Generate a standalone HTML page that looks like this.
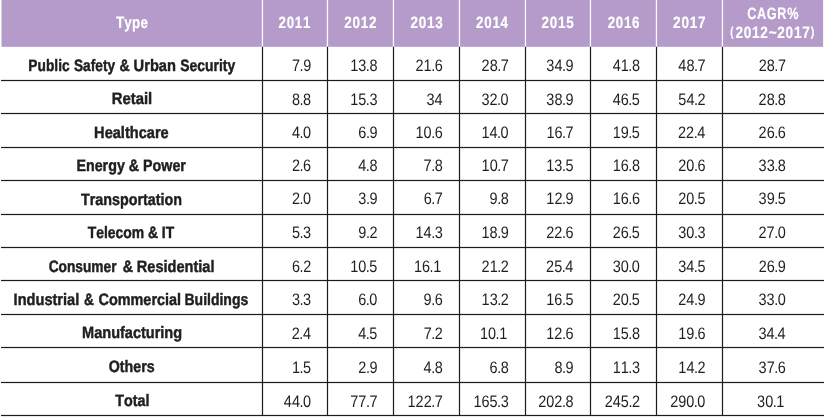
<!DOCTYPE html>
<html lang="en"><head><meta charset="utf-8"><title>Market size by type</title>
<style>
html,body{margin:0;padding:0;background:#fff;}
body{width:825px;height:417px;overflow:hidden;font-family:"Liberation Sans",sans-serif;}
svg{display:block;font-family:"Liberation Sans",sans-serif;font-kerning:none;will-change:transform;transform:translateZ(0);text-rendering:geometricPrecision;}
text{white-space:pre;}
</style></head><body>
<svg width="825" height="417" viewBox="0 0 825 417">
<rect x="0" y="0" width="825" height="417" fill="#ffffff"/>
<rect x="1.5" y="0" width="821.6" height="46.8" fill="#b49bca"/>
<rect x="261.8" y="0" width="1.3" height="46.8" fill="#fdf8ff"/>
<rect x="326.8" y="0" width="1.3" height="46.8" fill="#fdf8ff"/>
<rect x="392.8" y="0" width="1.3" height="46.8" fill="#fdf8ff"/>
<rect x="458.8" y="0" width="1.3" height="46.8" fill="#fdf8ff"/>
<rect x="524.8" y="0" width="1.3" height="46.8" fill="#fdf8ff"/>
<rect x="589.8" y="0" width="1.3" height="46.8" fill="#fdf8ff"/>
<rect x="655.8" y="0" width="1.3" height="46.8" fill="#fdf8ff"/>
<rect x="721.8" y="0" width="1.3" height="46.8" fill="#fdf8ff"/>
<rect x="261.9" y="46.8" width="1.2" height="369.2" fill="#1c1c1c"/>
<rect x="326.9" y="46.8" width="1.2" height="369.2" fill="#1c1c1c"/>
<rect x="392.9" y="46.8" width="1.2" height="369.2" fill="#1c1c1c"/>
<rect x="458.9" y="46.8" width="1.2" height="369.2" fill="#1c1c1c"/>
<rect x="524.9" y="46.8" width="1.2" height="369.2" fill="#1c1c1c"/>
<rect x="589.9" y="46.8" width="1.2" height="369.2" fill="#1c1c1c"/>
<rect x="655.9" y="46.8" width="1.2" height="369.2" fill="#1c1c1c"/>
<rect x="721.9" y="46.8" width="1.2" height="369.2" fill="#1c1c1c"/>
<rect x="1" y="79.9" width="823" height="1.2" fill="#1c1c1c"/>
<rect x="1" y="112.9" width="823" height="1.2" fill="#1c1c1c"/>
<rect x="1" y="146.9" width="823" height="1.2" fill="#1c1c1c"/>
<rect x="1" y="179.9" width="823" height="1.2" fill="#1c1c1c"/>
<rect x="1" y="213.9" width="823" height="1.2" fill="#1c1c1c"/>
<rect x="1" y="246.9" width="823" height="1.2" fill="#1c1c1c"/>
<rect x="1" y="279.9" width="823" height="1.2" fill="#1c1c1c"/>
<rect x="1" y="313.9" width="823" height="1.2" fill="#1c1c1c"/>
<rect x="1" y="346.9" width="823" height="1.2" fill="#1c1c1c"/>
<rect x="1" y="381.9" width="823" height="1.2" fill="#1c1c1c"/>
<rect x="1" y="414.9" width="823" height="1.2" fill="#1c1c1c"/>
<text transform="translate(115.93 27.60) scale(0.8104 1)" font-weight="bold" font-size="16.5" fill="#ffffff" stroke="#ffffff" stroke-width="0.2" stroke-linejoin="round" letter-spacing="0.3">Type</text>
<text transform="translate(278.62 27.60) scale(0.8034 1)" font-weight="bold" font-size="16.5" fill="#ffffff" stroke="#ffffff" stroke-width="0.2" stroke-linejoin="round" letter-spacing="0.9">2011</text>
<text transform="translate(344.22 27.60) scale(0.8182 1)" font-weight="bold" font-size="16.5" fill="#ffffff" stroke="#ffffff" stroke-width="0.2" stroke-linejoin="round" letter-spacing="0.9">2012</text>
<text transform="translate(410.52 27.60) scale(0.8194 1)" font-weight="bold" font-size="16.5" fill="#ffffff" stroke="#ffffff" stroke-width="0.2" stroke-linejoin="round" letter-spacing="0.9">2013</text>
<text transform="translate(476.12 27.60) scale(0.8087 1)" font-weight="bold" font-size="16.5" fill="#ffffff" stroke="#ffffff" stroke-width="0.2" stroke-linejoin="round" letter-spacing="0.9">2014</text>
<text transform="translate(541.62 27.60) scale(0.8165 1)" font-weight="bold" font-size="16.5" fill="#ffffff" stroke="#ffffff" stroke-width="0.2" stroke-linejoin="round" letter-spacing="0.9">2015</text>
<text transform="translate(607.72 27.60) scale(0.8037 1)" font-weight="bold" font-size="16.5" fill="#ffffff" stroke="#ffffff" stroke-width="0.2" stroke-linejoin="round" letter-spacing="0.9">2016</text>
<text transform="translate(673.11 27.60) scale(0.8222 1)" font-weight="bold" font-size="16.5" fill="#ffffff" stroke="#ffffff" stroke-width="0.2" stroke-linejoin="round" letter-spacing="0.9">2017</text>
<text transform="translate(747.16 18.70) scale(0.7671 1)" font-weight="bold" font-size="16.5" fill="#ffffff" stroke="#ffffff" stroke-width="0.2" stroke-linejoin="round" letter-spacing="0.9">CAGR%</text>
<text transform="translate(730.30 35.60) scale(0.7389 1)" font-weight="bold" font-size="13.1" fill="#ffffff" stroke="#ffffff" stroke-width="0.2" stroke-linejoin="round">(</text>
<text transform="translate(735.51 37.50) scale(0.8222 1)" font-weight="bold" font-size="16.5" fill="#ffffff" stroke="#ffffff" stroke-width="0.2" stroke-linejoin="round" letter-spacing="0.9">2012~2017</text>
<text transform="translate(810.77 35.60) scale(0.8201 1)" font-weight="bold" font-size="13.1" fill="#ffffff" stroke="#ffffff" stroke-width="0.2" stroke-linejoin="round">)</text>
<text transform="translate(28.37 71.00) scale(0.8331 1)" font-weight="bold" font-size="16.5" fill="#1f1f1f" stroke="#1f1f1f" stroke-width="0.45" stroke-linejoin="round">Public</text>
<text transform="translate(73.99 71.00) scale(0.8297 1)" font-weight="bold" font-size="16.5" fill="#1f1f1f" stroke="#1f1f1f" stroke-width="0.45" stroke-linejoin="round">Safety</text>
<text transform="translate(119.57 71.00) scale(0.8545 1)" font-weight="bold" font-size="16.5" fill="#1f1f1f" stroke="#1f1f1f" stroke-width="0.45" stroke-linejoin="round">&amp;</text>
<text transform="translate(133.61 71.00) scale(0.8875 1)" font-weight="bold" font-size="16.5" fill="#1f1f1f" stroke="#1f1f1f" stroke-width="0.45" stroke-linejoin="round">Urban</text>
<text transform="translate(180.19 71.00) scale(0.8447 1)" font-weight="bold" font-size="16.5" fill="#1f1f1f" stroke="#1f1f1f" stroke-width="0.45" stroke-linejoin="round">Security</text>
<text transform="translate(292.02 71.00) scale(0.8720 1)" font-size="16.6" fill="#1f1f1f">7<tspan dx="-0.55">.</tspan><tspan dx="-0.55">9</tspan></text>
<text transform="translate(350.22 71.00) scale(0.8720 1)" font-size="16.6" fill="#1f1f1f">13<tspan dx="-0.55">.</tspan><tspan dx="-0.55">8</tspan></text>
<text transform="translate(415.52 71.00) scale(0.8720 1)" font-size="16.6" fill="#1f1f1f">21<tspan dx="-0.55">.</tspan><tspan dx="-0.55">6</tspan></text>
<text transform="translate(481.61 71.00) scale(0.8720 1)" font-size="16.6" fill="#1f1f1f">28<tspan dx="-0.55">.</tspan><tspan dx="-0.55">7</tspan></text>
<text transform="translate(546.37 71.00) scale(0.8720 1)" font-size="16.6" fill="#1f1f1f">34<tspan dx="-0.55">.</tspan><tspan dx="-0.55">9</tspan></text>
<text transform="translate(612.72 71.00) scale(0.8720 1)" font-size="16.6" fill="#1f1f1f">41<tspan dx="-0.55">.</tspan><tspan dx="-0.55">8</tspan></text>
<text transform="translate(678.36 71.00) scale(0.8720 1)" font-size="16.6" fill="#1f1f1f">48<tspan dx="-0.55">.</tspan><tspan dx="-0.55">7</tspan></text>
<text transform="translate(758.71 71.00) scale(0.8720 1)" font-size="16.6" fill="#1f1f1f">28<tspan dx="-0.55">.</tspan><tspan dx="-0.55">7</tspan></text>
<text transform="translate(111.69 104.00) scale(0.9007 1)" font-weight="bold" font-size="16.5" fill="#1f1f1f" stroke="#1f1f1f" stroke-width="0.45" stroke-linejoin="round">Retail</text>
<text transform="translate(291.97 105.00) scale(0.8720 1)" font-size="16.6" fill="#1f1f1f">8<tspan dx="-0.55">.</tspan><tspan dx="-0.55">8</tspan></text>
<text transform="translate(350.22 105.00) scale(0.8720 1)" font-size="16.6" fill="#1f1f1f">15<tspan dx="-0.55">.</tspan><tspan dx="-0.55">3</tspan></text>
<text transform="translate(426.42 105.00) scale(0.8720 1)" font-size="16.6" fill="#1f1f1f">34</text>
<text transform="translate(481.45 105.00) scale(0.8720 1)" font-size="16.6" fill="#1f1f1f">32<tspan dx="-0.55">.</tspan><tspan dx="-0.55">0</tspan></text>
<text transform="translate(546.37 105.00) scale(0.8720 1)" font-size="16.6" fill="#1f1f1f">38<tspan dx="-0.55">.</tspan><tspan dx="-0.55">9</tspan></text>
<text transform="translate(612.69 105.00) scale(0.8720 1)" font-size="16.6" fill="#1f1f1f">46<tspan dx="-0.55">.</tspan><tspan dx="-0.55">5</tspan></text>
<text transform="translate(678.36 105.00) scale(0.8720 1)" font-size="16.6" fill="#1f1f1f">54<tspan dx="-0.55">.</tspan><tspan dx="-0.55">2</tspan></text>
<text transform="translate(758.62 105.00) scale(0.8720 1)" font-size="16.6" fill="#1f1f1f">28<tspan dx="-0.55">.</tspan><tspan dx="-0.55">8</tspan></text>
<text transform="translate(94.11 138.00) scale(0.8841 1)" font-weight="bold" font-size="16.5" fill="#1f1f1f" stroke="#1f1f1f" stroke-width="0.45" stroke-linejoin="round">Healthcare</text>
<text transform="translate(291.90 138.00) scale(0.8720 1)" font-size="16.6" fill="#1f1f1f">4<tspan dx="-0.55">.</tspan><tspan dx="-0.55">0</tspan></text>
<text transform="translate(358.32 138.00) scale(0.8720 1)" font-size="16.6" fill="#1f1f1f">6<tspan dx="-0.55">.</tspan><tspan dx="-0.55">9</tspan></text>
<text transform="translate(415.52 138.00) scale(0.8720 1)" font-size="16.6" fill="#1f1f1f">10<tspan dx="-0.55">.</tspan><tspan dx="-0.55">6</tspan></text>
<text transform="translate(481.45 138.00) scale(0.8720 1)" font-size="16.6" fill="#1f1f1f">14<tspan dx="-0.55">.</tspan><tspan dx="-0.55">0</tspan></text>
<text transform="translate(546.41 138.00) scale(0.8720 1)" font-size="16.6" fill="#1f1f1f">16<tspan dx="-0.55">.</tspan><tspan dx="-0.55">7</tspan></text>
<text transform="translate(612.69 138.00) scale(0.8720 1)" font-size="16.6" fill="#1f1f1f">19<tspan dx="-0.55">.</tspan><tspan dx="-0.55">5</tspan></text>
<text transform="translate(678.06 138.00) scale(0.8720 1)" font-size="16.6" fill="#1f1f1f">22<tspan dx="-0.55">.</tspan><tspan dx="-0.55">4</tspan></text>
<text transform="translate(758.62 138.00) scale(0.8720 1)" font-size="16.6" fill="#1f1f1f">26<tspan dx="-0.55">.</tspan><tspan dx="-0.55">6</tspan></text>
<text transform="translate(76.43 171.00) scale(0.8653 1)" font-weight="bold" font-size="16.5" fill="#1f1f1f" stroke="#1f1f1f" stroke-width="0.45" stroke-linejoin="round">Energy &amp; Power</text>
<text transform="translate(291.97 171.00) scale(0.8720 1)" font-size="16.6" fill="#1f1f1f">2<tspan dx="-0.55">.</tspan><tspan dx="-0.55">6</tspan></text>
<text transform="translate(358.27 171.00) scale(0.8720 1)" font-size="16.6" fill="#1f1f1f">4<tspan dx="-0.55">.</tspan><tspan dx="-0.55">8</tspan></text>
<text transform="translate(423.57 171.00) scale(0.8720 1)" font-size="16.6" fill="#1f1f1f">7<tspan dx="-0.55">.</tspan><tspan dx="-0.55">8</tspan></text>
<text transform="translate(481.61 171.00) scale(0.8720 1)" font-size="16.6" fill="#1f1f1f">10<tspan dx="-0.55">.</tspan><tspan dx="-0.55">7</tspan></text>
<text transform="translate(546.29 171.00) scale(0.8720 1)" font-size="16.6" fill="#1f1f1f">13<tspan dx="-0.55">.</tspan><tspan dx="-0.55">5</tspan></text>
<text transform="translate(612.72 171.00) scale(0.8720 1)" font-size="16.6" fill="#1f1f1f">16<tspan dx="-0.55">.</tspan><tspan dx="-0.55">8</tspan></text>
<text transform="translate(678.27 171.00) scale(0.8720 1)" font-size="16.6" fill="#1f1f1f">20<tspan dx="-0.55">.</tspan><tspan dx="-0.55">6</tspan></text>
<text transform="translate(758.62 171.00) scale(0.8720 1)" font-size="16.6" fill="#1f1f1f">33<tspan dx="-0.55">.</tspan><tspan dx="-0.55">8</tspan></text>
<text transform="translate(81.03 205.00) scale(0.8673 1)" font-weight="bold" font-size="16.5" fill="#1f1f1f" stroke="#1f1f1f" stroke-width="0.45" stroke-linejoin="round">Transportation</text>
<text transform="translate(291.90 204.00) scale(0.8720 1)" font-size="16.6" fill="#1f1f1f">2<tspan dx="-0.55">.</tspan><tspan dx="-0.55">0</tspan></text>
<text transform="translate(358.32 204.00) scale(0.8720 1)" font-size="16.6" fill="#1f1f1f">3<tspan dx="-0.55">.</tspan><tspan dx="-0.55">9</tspan></text>
<text transform="translate(423.66 204.00) scale(0.8720 1)" font-size="16.6" fill="#1f1f1f">6<tspan dx="-0.55">.</tspan><tspan dx="-0.55">7</tspan></text>
<text transform="translate(489.57 204.00) scale(0.8720 1)" font-size="16.6" fill="#1f1f1f">9<tspan dx="-0.55">.</tspan><tspan dx="-0.55">8</tspan></text>
<text transform="translate(546.37 204.00) scale(0.8720 1)" font-size="16.6" fill="#1f1f1f">12<tspan dx="-0.55">.</tspan><tspan dx="-0.55">9</tspan></text>
<text transform="translate(612.72 204.00) scale(0.8720 1)" font-size="16.6" fill="#1f1f1f">16<tspan dx="-0.55">.</tspan><tspan dx="-0.55">6</tspan></text>
<text transform="translate(678.24 204.00) scale(0.8720 1)" font-size="16.6" fill="#1f1f1f">20<tspan dx="-0.55">.</tspan><tspan dx="-0.55">5</tspan></text>
<text transform="translate(758.59 204.00) scale(0.8720 1)" font-size="16.6" fill="#1f1f1f">39<tspan dx="-0.55">.</tspan><tspan dx="-0.55">5</tspan></text>
<text transform="translate(87.73 238.00) scale(0.8416 1)" font-weight="bold" font-size="16.5" fill="#1f1f1f" stroke="#1f1f1f" stroke-width="0.45" stroke-linejoin="round">Telecom &amp; IT</text>
<text transform="translate(291.97 238.00) scale(0.8720 1)" font-size="16.6" fill="#1f1f1f">5<tspan dx="-0.55">.</tspan><tspan dx="-0.55">3</tspan></text>
<text transform="translate(358.36 238.00) scale(0.8720 1)" font-size="16.6" fill="#1f1f1f">9<tspan dx="-0.55">.</tspan><tspan dx="-0.55">2</tspan></text>
<text transform="translate(415.52 238.00) scale(0.8720 1)" font-size="16.6" fill="#1f1f1f">14<tspan dx="-0.55">.</tspan><tspan dx="-0.55">3</tspan></text>
<text transform="translate(481.57 238.00) scale(0.8720 1)" font-size="16.6" fill="#1f1f1f">18<tspan dx="-0.55">.</tspan><tspan dx="-0.55">9</tspan></text>
<text transform="translate(546.32 238.00) scale(0.8720 1)" font-size="16.6" fill="#1f1f1f">22<tspan dx="-0.55">.</tspan><tspan dx="-0.55">6</tspan></text>
<text transform="translate(612.69 238.00) scale(0.8720 1)" font-size="16.6" fill="#1f1f1f">26<tspan dx="-0.55">.</tspan><tspan dx="-0.55">5</tspan></text>
<text transform="translate(678.27 238.00) scale(0.8720 1)" font-size="16.6" fill="#1f1f1f">30<tspan dx="-0.55">.</tspan><tspan dx="-0.55">3</tspan></text>
<text transform="translate(758.55 238.00) scale(0.8720 1)" font-size="16.6" fill="#1f1f1f">27<tspan dx="-0.55">.</tspan><tspan dx="-0.55">0</tspan></text>
<text transform="translate(48.63 272.00) scale(0.8320 1)" font-weight="bold" font-size="16.5" fill="#1f1f1f" stroke="#1f1f1f" stroke-width="0.45" stroke-linejoin="round">Consumer</text>
<text transform="translate(122.66 272.00) scale(0.8639 1)" font-weight="bold" font-size="16.5" fill="#1f1f1f" stroke="#1f1f1f" stroke-width="0.45" stroke-linejoin="round">&amp;</text>
<text transform="translate(136.82 272.00) scale(0.8818 1)" font-weight="bold" font-size="16.5" fill="#1f1f1f" stroke="#1f1f1f" stroke-width="0.45" stroke-linejoin="round">Residential</text>
<text transform="translate(292.06 272.00) scale(0.8720 1)" font-size="16.6" fill="#1f1f1f">6<tspan dx="-0.55">.</tspan><tspan dx="-0.55">2</tspan></text>
<text transform="translate(350.19 272.00) scale(0.8720 1)" font-size="16.6" fill="#1f1f1f">10<tspan dx="-0.55">.</tspan><tspan dx="-0.55">5</tspan></text>
<text transform="translate(413.99 272.00) scale(0.8720 1)" font-size="16.6" fill="#1f1f1f">16<tspan dx="-0.55">.</tspan><tspan dx="-0.55">1</tspan></text>
<text transform="translate(481.61 272.00) scale(0.8720 1)" font-size="16.6" fill="#1f1f1f">21<tspan dx="-0.55">.</tspan><tspan dx="-0.55">2</tspan></text>
<text transform="translate(546.11 272.00) scale(0.8720 1)" font-size="16.6" fill="#1f1f1f">25<tspan dx="-0.55">.</tspan><tspan dx="-0.55">4</tspan></text>
<text transform="translate(612.65 272.00) scale(0.8720 1)" font-size="16.6" fill="#1f1f1f">30<tspan dx="-0.55">.</tspan><tspan dx="-0.55">0</tspan></text>
<text transform="translate(678.24 272.00) scale(0.8720 1)" font-size="16.6" fill="#1f1f1f">34<tspan dx="-0.55">.</tspan><tspan dx="-0.55">5</tspan></text>
<text transform="translate(758.67 272.00) scale(0.8720 1)" font-size="16.6" fill="#1f1f1f">26<tspan dx="-0.55">.</tspan><tspan dx="-0.55">9</tspan></text>
<text transform="translate(13.61 305.00) scale(0.8838 1)" font-weight="bold" font-size="16.5" fill="#1f1f1f" stroke="#1f1f1f" stroke-width="0.45" stroke-linejoin="round">Industrial</text>
<text transform="translate(83.89 305.00) scale(0.8264 1)" font-weight="bold" font-size="16.5" fill="#1f1f1f" stroke="#1f1f1f" stroke-width="0.45" stroke-linejoin="round">&amp;</text>
<text transform="translate(98.50 305.00) scale(0.8738 1)" font-weight="bold" font-size="16.5" fill="#1f1f1f" stroke="#1f1f1f" stroke-width="0.45" stroke-linejoin="round">Commercial</text>
<text transform="translate(184.45 305.00) scale(0.8493 1)" font-weight="bold" font-size="16.5" fill="#1f1f1f" stroke="#1f1f1f" stroke-width="0.45" stroke-linejoin="round">Buildings</text>
<text transform="translate(291.97 305.00) scale(0.8720 1)" font-size="16.6" fill="#1f1f1f">3<tspan dx="-0.55">.</tspan><tspan dx="-0.55">3</tspan></text>
<text transform="translate(358.20 305.00) scale(0.8720 1)" font-size="16.6" fill="#1f1f1f">6<tspan dx="-0.55">.</tspan><tspan dx="-0.55">0</tspan></text>
<text transform="translate(423.57 305.00) scale(0.8720 1)" font-size="16.6" fill="#1f1f1f">9<tspan dx="-0.55">.</tspan><tspan dx="-0.55">6</tspan></text>
<text transform="translate(481.61 305.00) scale(0.8720 1)" font-size="16.6" fill="#1f1f1f">13<tspan dx="-0.55">.</tspan><tspan dx="-0.55">2</tspan></text>
<text transform="translate(546.29 305.00) scale(0.8720 1)" font-size="16.6" fill="#1f1f1f">16<tspan dx="-0.55">.</tspan><tspan dx="-0.55">5</tspan></text>
<text transform="translate(612.69 305.00) scale(0.8720 1)" font-size="16.6" fill="#1f1f1f">20<tspan dx="-0.55">.</tspan><tspan dx="-0.55">5</tspan></text>
<text transform="translate(678.32 305.00) scale(0.8720 1)" font-size="16.6" fill="#1f1f1f">24<tspan dx="-0.55">.</tspan><tspan dx="-0.55">9</tspan></text>
<text transform="translate(758.55 305.00) scale(0.8720 1)" font-size="16.6" fill="#1f1f1f">33<tspan dx="-0.55">.</tspan><tspan dx="-0.55">0</tspan></text>
<text transform="translate(82.12 338.00) scale(0.8795 1)" font-weight="bold" font-size="16.5" fill="#1f1f1f" stroke="#1f1f1f" stroke-width="0.45" stroke-linejoin="round">Manufacturing</text>
<text transform="translate(291.76 339.00) scale(0.8720 1)" font-size="16.6" fill="#1f1f1f">2<tspan dx="-0.55">.</tspan><tspan dx="-0.55">4</tspan></text>
<text transform="translate(358.24 339.00) scale(0.8720 1)" font-size="16.6" fill="#1f1f1f">4<tspan dx="-0.55">.</tspan><tspan dx="-0.55">5</tspan></text>
<text transform="translate(423.66 339.00) scale(0.8720 1)" font-size="16.6" fill="#1f1f1f">7<tspan dx="-0.55">.</tspan><tspan dx="-0.55">2</tspan></text>
<text transform="translate(479.99 339.00) scale(0.8720 1)" font-size="16.6" fill="#1f1f1f">10<tspan dx="-0.55">.</tspan><tspan dx="-0.55">1</tspan></text>
<text transform="translate(546.32 339.00) scale(0.8720 1)" font-size="16.6" fill="#1f1f1f">12<tspan dx="-0.55">.</tspan><tspan dx="-0.55">6</tspan></text>
<text transform="translate(612.72 339.00) scale(0.8720 1)" font-size="16.6" fill="#1f1f1f">15<tspan dx="-0.55">.</tspan><tspan dx="-0.55">8</tspan></text>
<text transform="translate(678.27 339.00) scale(0.8720 1)" font-size="16.6" fill="#1f1f1f">19<tspan dx="-0.55">.</tspan><tspan dx="-0.55">6</tspan></text>
<text transform="translate(758.41 339.00) scale(0.8720 1)" font-size="16.6" fill="#1f1f1f">34<tspan dx="-0.55">.</tspan><tspan dx="-0.55">4</tspan></text>
<text transform="translate(108.81 372.00) scale(0.8610 1)" font-weight="bold" font-size="16.5" fill="#1f1f1f" stroke="#1f1f1f" stroke-width="0.45" stroke-linejoin="round">Others</text>
<text transform="translate(291.94 373.00) scale(0.8720 1)" font-size="16.6" fill="#1f1f1f">1<tspan dx="-0.55">.</tspan><tspan dx="-0.55">5</tspan></text>
<text transform="translate(358.32 373.00) scale(0.8720 1)" font-size="16.6" fill="#1f1f1f">2<tspan dx="-0.55">.</tspan><tspan dx="-0.55">9</tspan></text>
<text transform="translate(423.57 373.00) scale(0.8720 1)" font-size="16.6" fill="#1f1f1f">4<tspan dx="-0.55">.</tspan><tspan dx="-0.55">8</tspan></text>
<text transform="translate(489.57 373.00) scale(0.8720 1)" font-size="16.6" fill="#1f1f1f">6<tspan dx="-0.55">.</tspan><tspan dx="-0.55">8</tspan></text>
<text transform="translate(554.42 373.00) scale(0.8720 1)" font-size="16.6" fill="#1f1f1f">8<tspan dx="-0.55">.</tspan><tspan dx="-0.55">9</tspan></text>
<text transform="translate(612.72 373.00) scale(0.8720 1)" font-size="16.6" fill="#1f1f1f">11<tspan dx="-0.55">.</tspan><tspan dx="-0.55">3</tspan></text>
<text transform="translate(678.36 373.00) scale(0.8720 1)" font-size="16.6" fill="#1f1f1f">14<tspan dx="-0.55">.</tspan><tspan dx="-0.55">2</tspan></text>
<text transform="translate(758.62 373.00) scale(0.8720 1)" font-size="16.6" fill="#1f1f1f">37<tspan dx="-0.55">.</tspan><tspan dx="-0.55">6</tspan></text>
<text transform="translate(115.23 406.00) scale(0.8676 1)" font-weight="bold" font-size="16.5" fill="#1f1f1f" stroke="#1f1f1f" stroke-width="0.45" stroke-linejoin="round">Total</text>
<text transform="translate(283.85 407.00) scale(0.8720 1)" font-size="16.6" fill="#1f1f1f">44<tspan dx="-0.55">.</tspan><tspan dx="-0.55">0</tspan></text>
<text transform="translate(350.31 407.00) scale(0.8720 1)" font-size="16.6" fill="#1f1f1f">77<tspan dx="-0.55">.</tspan><tspan dx="-0.55">7</tspan></text>
<text transform="translate(407.56 407.00) scale(0.8720 1)" font-size="16.6" fill="#1f1f1f">122<tspan dx="-0.55">.</tspan><tspan dx="-0.55">7</tspan></text>
<text transform="translate(473.47 407.00) scale(0.8720 1)" font-size="16.6" fill="#1f1f1f">165<tspan dx="-0.55">.</tspan><tspan dx="-0.55">3</tspan></text>
<text transform="translate(538.26 407.00) scale(0.8720 1)" font-size="16.6" fill="#1f1f1f">202<tspan dx="-0.55">.</tspan><tspan dx="-0.55">8</tspan></text>
<text transform="translate(604.76 407.00) scale(0.8720 1)" font-size="16.6" fill="#1f1f1f">245<tspan dx="-0.55">.</tspan><tspan dx="-0.55">2</tspan></text>
<text transform="translate(670.15 407.00) scale(0.8720 1)" font-size="16.6" fill="#1f1f1f">290<tspan dx="-0.55">.</tspan><tspan dx="-0.55">0</tspan></text>
<text transform="translate(757.09 407.00) scale(0.8720 1)" font-size="16.6" fill="#1f1f1f">30<tspan dx="-0.55">.</tspan><tspan dx="-0.55">1</tspan></text>
</svg></body></html>
